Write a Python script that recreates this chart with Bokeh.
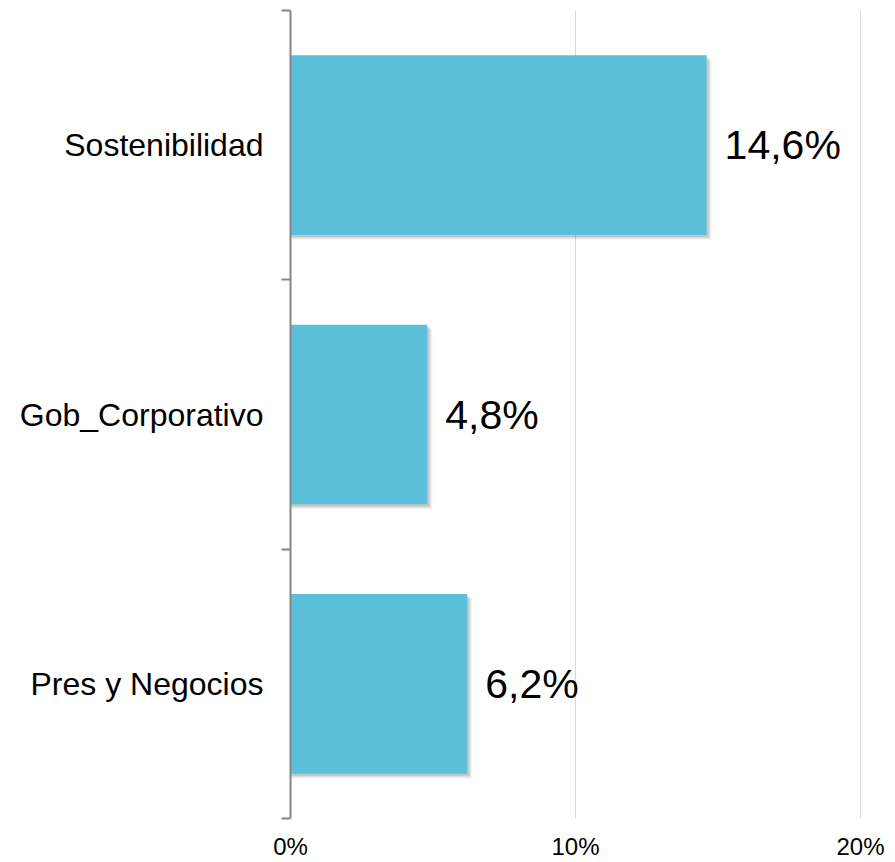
from bokeh.plotting import figure
from bokeh.models import Range1d, FixedTicker, NumeralTickFormatter, ColumnDataSource
from bokeh.transform import dodge
from bokeh.core.properties import value
from bokeh.embed import file_html
from bokeh.resources import INLINE

# Data (top to bottom)
categories = ["Sostenibilidad", "Gob_Corporativo", "Pres y Negocios"]
values = [0.146, 0.048, 0.062]
x_ticks = [0.0, 0.1, 0.2]

n = len(categories)
ypos = [n - i - 0.5 for i in range(n)]
labels = [f"{v*100:.1f}%".replace(".", ",") for v in values]
src = ColumnDataSource(dict(y=ypos, right=values, lbl=labels, cat=categories))

FW, FH = 572, 808
XMAX = 0.2 * FW / 570.0
p = figure(frame_width=FW, frame_height=FH, output_backend="svg", toolbar_location=None,
           x_range=Range1d(0, XMAX), y_range=Range1d(0, n),
           min_border_left=290, min_border_right=26, min_border_top=10, min_border_bottom=30)
p.outline_line_color = None
p.background_fill_color = "white"
p.border_fill_color = "white"

FONT = "Liberation Sans"

# x axis
p.xaxis.ticker = FixedTicker(ticks=x_ticks)
p.xaxis.formatter = NumeralTickFormatter(format="0%")
p.xaxis.axis_line_color = None
p.xaxis.major_tick_line_color = None
p.xaxis.minor_tick_line_color = None
p.xaxis.major_tick_out = 0
p.xaxis.major_tick_in = 0
p.xaxis.major_label_standoff = 14
p.xaxis.major_label_text_font = FONT
p.xaxis.major_label_text_font_size = "24px"
p.xaxis.major_label_text_color = "#000000"

p.xgrid.ticker = FixedTicker(ticks=x_ticks)
p.xgrid.grid_line_color = "#d9d9d9"
p.xgrid.grid_line_width = 1
p.ygrid.grid_line_color = None

# y axis
p.yaxis.ticker = FixedTicker(ticks=ypos, minor_ticks=list(range(n + 1)))
p.yaxis.major_label_overrides = {y: c for y, c in zip(ypos, categories)}
p.yaxis.major_tick_line_color = None
p.yaxis.major_tick_out = 0
p.yaxis.major_tick_in = 0
p.yaxis.minor_tick_line_color = "#868686"
p.yaxis.minor_tick_line_width = 2
p.yaxis.minor_tick_out = 9
p.yaxis.minor_tick_in = 0
p.yaxis.axis_line_color = "#868686"
p.yaxis.axis_line_width = 2
p.yaxis.major_label_standoff = 18
p.yaxis.major_label_text_font = FONT
p.yaxis.major_label_text_font_size = "32px"
p.yaxis.major_label_text_color = "#000000"

# soft shadow layers
px_y = n / FH
px_x = XMAX / FW
for k, a in [(5, 0.04), (4, 0.05), (3, 0.07), (2, 0.08)]:
    p.hbar(y=dodge("y", -k * px_y), right=dodge("right", k * px_x), left=0, height=0.667,
           source=src, fill_color="#000000", fill_alpha=a, line_color=None)

p.hbar(y="y", right="right", left=0, height=0.667, source=src,
       fill_color="#5bc0d9", line_color=None)

p.text(x="right", y="y", text="lbl", source=src, x_offset=18,
       text_baseline="middle", text_align="left",
       text_font=value(FONT), text_font_size="41px", text_color="#000000")

open("out.html", "w").write(file_html(p, INLINE))
